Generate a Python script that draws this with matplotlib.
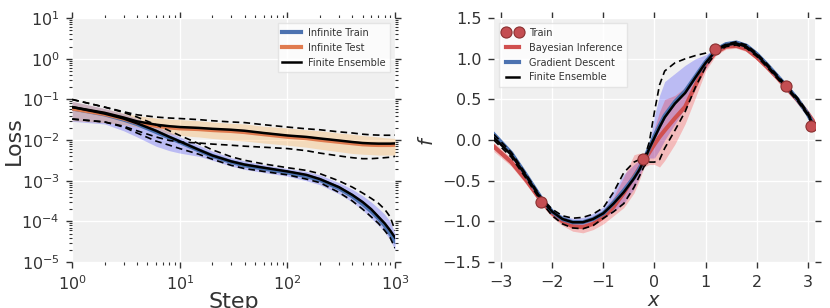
import numpy as np
import matplotlib
matplotlib.use('Agg')
import matplotlib.pyplot as plt

# ---- left panel: loss vs step ----
steps = [1, 2, 3, 4, 6, 8, 10, 15, 20, 30, 40, 60, 100, 150, 200, 300, 400, 500, 600, 700, 800, 900, 1000]

train_ens = [0.065, 0.045, 0.034, 0.026, 0.017, 0.012, 0.0093, 0.0058, 0.0042, 0.0030, 0.0025, 0.0021,
             0.0017, 0.0014, 0.0011, 0.0007, 0.00045, 0.0003, 0.0002, 0.00013, 9e-5, 6e-5, 4e-5]
train_inf = [0.060, 0.043, 0.032, 0.025, 0.016, 0.0115, 0.009, 0.0056, 0.0041, 0.0029, 0.0024, 0.002,
             0.0016, 0.0013, 0.00105, 0.00066, 0.00042, 0.00027, 0.00018, 0.00012, 8e-5, 5e-5, 3.3e-5]
train_up = [0.10, 0.065, 0.048, 0.037, 0.024, 0.017, 0.013, 0.0082, 0.0058, 0.0039, 0.0032, 0.0026,
            0.0021, 0.0018, 0.0015, 0.001, 0.0007, 0.0005, 0.00037, 0.00028, 0.0002, 0.00013, 6e-5]
train_lo = [0.033, 0.028, 0.021, 0.015, 0.0095, 0.0075, 0.0062, 0.0045, 0.0034, 0.0024, 0.002, 0.0017,
            0.0014, 0.0011, 0.0009, 0.00052, 0.00032, 0.0002, 0.00013, 9e-5, 6e-5, 4e-5, 2.2e-5]
train_band_up = [0.09, 0.06, 0.045, 0.034, 0.022, 0.016, 0.012, 0.0075, 0.0054, 0.0037, 0.0031, 0.0025,
                 0.002, 0.0017, 0.0014, 0.0009, 0.00062, 0.00043, 0.0003, 0.00021, 0.00015, 0.0001, 5e-5]
train_band_lo = [0.029, 0.025, 0.017, 0.012, 0.0071, 0.0055, 0.0048, 0.004, 0.0032, 0.0023, 0.0019, 0.0016,
                 0.0013, 0.001, 0.0008, 0.00048, 0.0003, 0.00019, 0.00012, 8e-5, 5.5e-5, 3.5e-5, 2e-5]

test_ens = [0.065, 0.047, 0.036, 0.029, 0.024, 0.022, 0.021, 0.020, 0.019, 0.018, 0.017, 0.015,
            0.013, 0.012, 0.011, 0.0098, 0.009, 0.0085, 0.0083, 0.0082, 0.0082, 0.0082, 0.0083]
test_inf = [0.060, 0.044, 0.034, 0.027, 0.0225, 0.0205, 0.0195, 0.0187, 0.0177, 0.0168, 0.0158, 0.014,
            0.0121, 0.0112, 0.0102, 0.0091, 0.0084, 0.0079, 0.0077, 0.0076, 0.0076, 0.0076, 0.0077]
test_up = [0.10, 0.065, 0.05, 0.042, 0.037, 0.035, 0.034, 0.032, 0.03, 0.028, 0.027, 0.024,
           0.021, 0.019, 0.018, 0.016, 0.015, 0.014, 0.0135, 0.0133, 0.0132, 0.0132, 0.0133]
test_lo = [0.033, 0.028, 0.022, 0.017, 0.012, 0.0098, 0.009, 0.0085, 0.008, 0.0075, 0.0071, 0.0067,
           0.0062, 0.0055, 0.0048, 0.0041, 0.0037, 0.0035, 0.0035, 0.0036, 0.0037, 0.0038, 0.004]
test_band_up = [0.09, 0.06, 0.046, 0.04, 0.035, 0.033, 0.032, 0.03, 0.028, 0.026, 0.025, 0.022,
                0.02, 0.018, 0.017, 0.015, 0.014, 0.013, 0.0125, 0.012, 0.0115, 0.0112, 0.011]
test_band_lo = [0.03, 0.027, 0.024, 0.021, 0.016, 0.014, 0.013, 0.012, 0.011, 0.01, 0.0095, 0.0085,
                0.0075, 0.0067, 0.006, 0.0052, 0.0047, 0.0045, 0.0044, 0.0043, 0.0043, 0.0043, 0.0043]

# ---- right panel: function fit ----
xs = [-3.14, -2.8, -2.5, -2.2, -2.0, -1.8, -1.6, -1.4, -1.2, -1.0, -0.8, -0.6, -0.4, -0.3, -0.2, -0.1,
      0.0, 0.1, 0.2, 0.4, 0.6, 0.8, 1.0, 1.2, 1.4, 1.6, 1.8, 2.0, 2.2, 2.4, 2.6, 2.8, 3.0, 3.14]

ens_mean = [0.03, -0.18, -0.45, -0.74, -0.88, -0.97, -1.01, -1.01, -0.97, -0.90, -0.78, -0.64, -0.47, -0.37, -0.25, -0.10,
            0.03, 0.16, 0.28, 0.45, 0.58, 0.77, 0.95, 1.10, 1.17, 1.19, 1.15, 1.05, 0.92, 0.78, 0.64, 0.50, 0.32, 0.15]
ens_up = [0.07, -0.15, -0.43, -0.72, -0.85, -0.93, -0.96, -0.95, -0.91, -0.83, -0.64, -0.40, -0.27, -0.24, -0.23, -0.02,
          0.35, 0.68, 0.85, 0.95, 1.00, 1.04, 1.07, 1.12, 1.18, 1.21, 1.17, 1.07, 0.94, 0.80, 0.66, 0.52, 0.34, 0.17]
ens_lo = [0.00, -0.21, -0.48, -0.77, -0.93, -1.03, -1.08, -1.09, -1.05, -0.96, -0.88, -0.78, -0.58, -0.45, -0.32, -0.27,
          -0.27, -0.24, -0.10, 0.12, 0.35, 0.65, 0.90, 1.07, 1.15, 1.17, 1.13, 1.03, 0.90, 0.76, 0.62, 0.48, 0.30, 0.13]

gd_mean = [0.07, -0.16, -0.44, -0.73, -0.88, -0.97, -1.01, -1.01, -0.97, -0.90, -0.77, -0.62, -0.46, -0.36, -0.24, -0.09,
           0.05, 0.18, 0.30, 0.47, 0.60, 0.78, 0.96, 1.11, 1.18, 1.20, 1.16, 1.06, 0.93, 0.79, 0.65, 0.50, 0.32, 0.15]
gd_up = [0.10, -0.13, -0.41, -0.70, -0.85, -0.93, -0.96, -0.95, -0.90, -0.82, -0.62, -0.42, -0.30, -0.25, -0.20, -0.05,
         0.30, 0.55, 0.72, 0.82, 0.92, 1.00, 1.05, 1.13, 1.20, 1.23, 1.19, 1.09, 0.96, 0.82, 0.68, 0.53, 0.35, 0.18]
gd_lo = [0.02, -0.20, -0.47, -0.76, -0.91, -1.01, -1.05, -1.06, -1.03, -0.96, -0.88, -0.78, -0.60, -0.46, -0.30, -0.22,
         -0.22, -0.12, 0.00, 0.20, 0.40, 0.65, 0.88, 1.07, 1.15, 1.17, 1.13, 1.03, 0.90, 0.76, 0.62, 0.47, 0.29, 0.12]

bi_mean = [-0.08, -0.27, -0.50, -0.76, -0.90, -1.00, -1.06, -1.07, -1.03, -0.95, -0.82, -0.65, -0.45, -0.35, -0.25, -0.15,
           -0.05, 0.04, 0.12, 0.27, 0.41, 0.67, 0.93, 1.08, 1.15, 1.16, 1.12, 1.02, 0.90, 0.77, 0.63, 0.49, 0.33, 0.20]
bi_up = [-0.03, -0.22, -0.45, -0.72, -0.86, -0.95, -1.00, -1.00, -0.96, -0.87, -0.70, -0.45, -0.18, -0.16, -0.20, -0.15,
         0.15, 0.35, 0.50, 0.55, 0.65, 0.82, 0.98, 1.12, 1.18, 1.19, 1.15, 1.05, 0.93, 0.80, 0.66, 0.52, 0.36, 0.24]
bi_lo = [-0.14, -0.32, -0.55, -0.80, -0.95, -1.05, -1.12, -1.14, -1.10, -1.03, -0.93, -0.83, -0.65, -0.50, -0.33, -0.30,
         -0.30, -0.33, -0.25, -0.05, 0.20, 0.52, 0.85, 1.04, 1.12, 1.13, 1.09, 0.99, 0.87, 0.74, 0.60, 0.46, 0.30, 0.16]

train_x = [-2.22, -0.22, 1.18, 2.58, 3.07]
train_y = [-0.76, -0.23, 1.12, 0.66, 0.17]

BLUE = '#4C72B0'
ORANGE = '#E07B4F'
RED = '#D0504F'
BG = '#f0f0f0'
TXT = '#333333'
DASH = (0, (4, 2.5))

fig = plt.figure(figsize=(8.3, 3.08), dpi=100)
ax1 = fig.add_axes([0.087, 0.149, 0.389, 0.792])
ax2 = fig.add_axes([0.595, 0.149, 0.387, 0.792])


def style(ax):
    ax.set_facecolor(BG)
    for s in ax.spines.values():
        s.set_visible(False)
    ax.grid(True, color='white', lw=1.0)
    ax.set_axisbelow(True)
    ax.tick_params(which='both', direction='out', top=True, right=True,
                   color=TXT, labelcolor=TXT, labelsize=11.5, pad=5)
    ax.tick_params(which='major', length=4, width=1)
    ax.tick_params(which='minor', length=2, width=0.8)


def legend(ax, loc, **kw):
    leg = ax.legend(loc=loc, fontsize=7, frameon=True, handlelength=1.9, handletextpad=0.7,
                    borderpad=0.5, labelspacing=0.5, fancybox=False, **kw)
    leg.get_frame().set_facecolor('white')
    leg.get_frame().set_edgecolor('#e0e0e0')
    for t in leg.get_texts():
        t.set_color(TXT)
    return leg


# left
style(ax1)
ax1.set_xscale('log')
ax1.set_yscale('log')
ax1.fill_between(steps, train_band_lo, train_band_up, color='blue', alpha=0.22, lw=0)
ax1.fill_between(steps, test_band_lo, test_band_up, color='darkorange', alpha=0.22, lw=0)
ax1.plot(steps, train_inf, color=BLUE, lw=3, label='Infinite Train')
ax1.plot(steps, test_inf, color=ORANGE, lw=3, label='Infinite Test')
ax1.plot(steps, train_ens, color='black', lw=1.8, label='Finite Ensemble')
ax1.plot(steps, test_ens, color='black', lw=1.8)
for arr in (train_up, train_lo, test_up, test_lo):
    ax1.plot(steps, arr, color='black', lw=1.2, ls=DASH)
ax1.set_xlim(1, 1000)
ax1.set_ylim(1e-5, 10)
ax1.set_xlabel('Step', fontsize=16, color=TXT, labelpad=-1)
ax1.set_ylabel('Loss', fontsize=16, color=TXT, labelpad=-2)
legend(ax1, 'upper right')

# right
style(ax2)
ax2.fill_between(xs, gd_lo, gd_up, color='blue', alpha=0.22, lw=0)
ax2.fill_between(xs, bi_lo, bi_up, color='red', alpha=0.22, lw=0)
ax2.plot(train_x, train_y, 'o', color='#C44E52', mec='#8a3030', mew=0.8, ms=8, label='Train', zorder=5)
ax2.plot(xs, bi_mean, color=RED, lw=3, label='Bayesian Inference')
ax2.plot(xs, gd_mean, color=BLUE, lw=3, label='Gradient Descent')
ax2.plot(xs, ens_mean, color='black', lw=1.8, label='Finite Ensemble')
ax2.plot(xs, ens_up, color='black', lw=1.2, ls=DASH)
ax2.plot(xs, ens_lo, color='black', lw=1.2, ls=DASH)
ax2.set_xlim(-np.pi, np.pi)
ax2.set_ylim(-1.5, 1.5)
ax2.set_xticks([-3, -2, -1, 0, 1, 2, 3])
ax2.set_yticks([-1.5, -1.0, -0.5, 0.0, 0.5, 1.0, 1.5])
ax2.set_xlabel('$x$', fontsize=14, color=TXT, labelpad=1)
ax2.set_ylabel('$f$', fontsize=14, color=TXT, labelpad=4)
legend(ax2, 'upper left', numpoints=2)

fig.savefig('out.png', dpi=100)
